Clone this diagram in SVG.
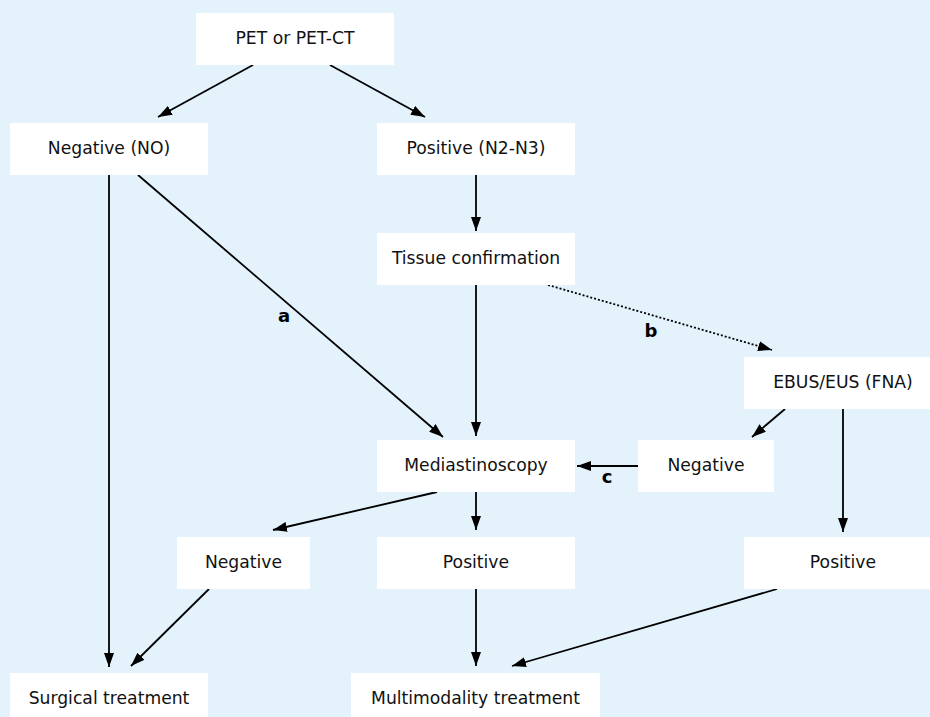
<svg xmlns="http://www.w3.org/2000/svg" width="930" height="717" viewBox="0 0 930 717">
  <style>
    .box { fill: #ffffff; }
    .lbl { font-family: "DejaVu Sans", "Liberation Sans", sans-serif; font-size: 17.2px; fill: #111111; text-anchor: middle; }
    .key { font-family: "DejaVu Sans", "Liberation Sans", sans-serif; font-size: 18px; font-weight: bold; fill: #000; text-anchor: middle; }
    .ln { stroke: #000; stroke-width: 1.8; fill: none; marker-end: url(#ah); }
    .dot { stroke-dasharray: 2 2; }
  </style>
  <defs>
    <marker id="ah" markerUnits="userSpaceOnUse" markerWidth="14" markerHeight="10" refX="14" refY="5" orient="auto">
      <path d="M0,0 L14,5 L0,10 Z" fill="#000"/>
    </marker>
  </defs>
  <rect x="0" y="0" width="930" height="717" fill="#E3F2FB"/>

  <g id="connectors">
    <line class="ln" x1="253" y1="65" x2="158" y2="117"/>
    <line class="ln" x1="330" y1="65" x2="425" y2="117"/>
    <line class="ln" x1="476" y1="175" x2="476" y2="231"/>
    <line class="ln" x1="109" y1="175" x2="109" y2="667"/>
    <line class="ln" x1="138" y1="175" x2="443" y2="437"/>
    <line class="ln" x1="476" y1="285" x2="476" y2="436"/>
    <line class="ln dot" x1="548" y1="285" x2="772" y2="350"/>
    <line class="ln" x1="785" y1="409" x2="752" y2="437"/>
    <line class="ln" x1="843" y1="409" x2="843" y2="532"/>
    <line class="ln" x1="638" y1="466" x2="577" y2="466"/>
    <line class="ln" x1="437" y1="492" x2="273" y2="530"/>
    <line class="ln" x1="476" y1="492" x2="476" y2="530"/>
    <line class="ln" x1="209" y1="589" x2="131" y2="666"/>
    <line class="ln" x1="476" y1="589" x2="476" y2="666"/>
    <line class="ln" x1="777" y1="589" x2="512" y2="666"/>
    <text class="key" x="284" y="322">a</text>
    <text class="key" x="651" y="337">b</text>
    <text class="key" x="607" y="483">c</text>
  </g>

  <g id="pet"><rect class="box" x="196" y="13" width="198" height="52"/><text class="lbl" x="295" y="44">PET or PET-CT</text></g>
  <g id="negative-n0"><rect class="box" x="10" y="123" width="198" height="52"/><text class="lbl" x="109" y="154">Negative (NO)</text></g>
  <g id="positive-n2n3"><rect class="box" x="377" y="123" width="198" height="52"/><text class="lbl" x="476" y="154">Positive (N2-N3)</text></g>
  <g id="tissue"><rect class="box" x="377" y="233" width="198" height="52"/><text class="lbl" x="476" y="264">Tissue confirmation</text></g>
  <g id="ebus"><rect class="box" x="744" y="357" width="198" height="52"/><text class="lbl" x="843" y="388">EBUS/EUS (FNA)</text></g>
  <g id="mediastinoscopy"><rect class="box" x="377" y="440" width="198" height="52"/><text class="lbl" x="476" y="471">Mediastinoscopy</text></g>
  <g id="negative-ebus"><rect class="box" x="638" y="440" width="136" height="52"/><text class="lbl" x="706" y="471">Negative</text></g>
  <g id="negative-med"><rect class="box" x="177" y="537" width="133" height="52"/><text class="lbl" x="243.5" y="568">Negative</text></g>
  <g id="positive-med"><rect class="box" x="377" y="537" width="198" height="52"/><text class="lbl" x="476" y="568">Positive</text></g>
  <g id="positive-ebus"><rect class="box" x="744" y="537" width="198" height="52"/><text class="lbl" x="843" y="568">Positive</text></g>
  <g id="surgical"><rect class="box" x="10" y="673" width="198" height="52"/><text class="lbl" x="109" y="704">Surgical treatment</text></g>
  <g id="multimodality"><rect class="box" x="351" y="673" width="249" height="52"/><text class="lbl" x="475.5" y="704">Multimodality treatment</text></g>
</svg>
